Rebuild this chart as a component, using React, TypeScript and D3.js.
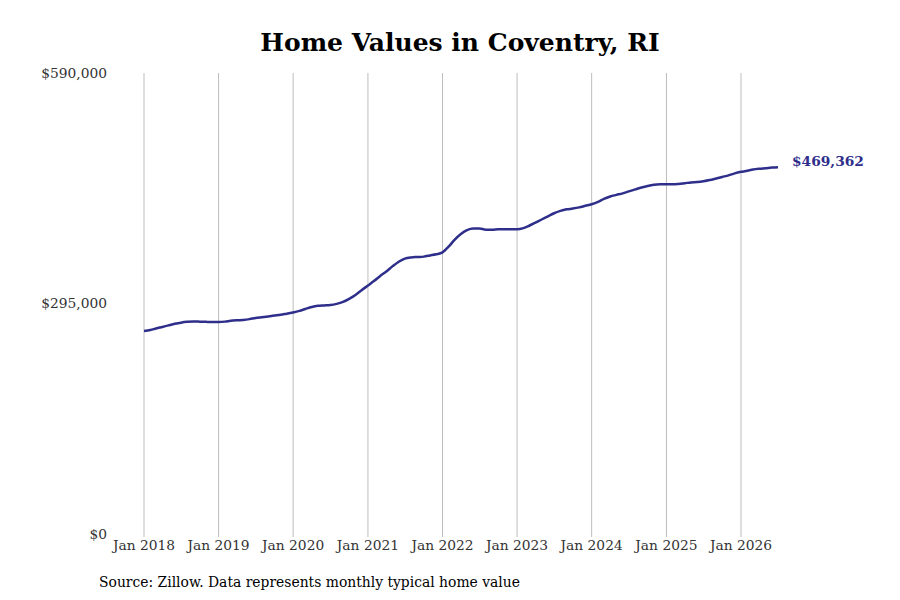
import * as d3 from "d3";

const W = 900;
const H = 600;
const M = { top: 73, right: 122, bottom: 66, left: 144 };

const START = new Date(2018, 0, 1);
const TICK_YEARS = [2018, 2019, 2020, 2021, 2022, 2023, 2024, 2025, 2026];
const Y_TICKS = [0, 295000, 590000];

// monthly typical home value, thousands of dollars, Jan 2018 .. Jul 2026
const v2018 = [259.8, 261, 263, 265, 267, 269, 270.5, 271.5, 272, 271.8, 271.5, 271.3];
const v2019 = [271.3, 271.8, 272.8, 273.5, 274, 275, 276.5, 277.5, 278.5, 279.5, 280.5, 282];
const v2020 = [283.5, 285.5, 288, 290.5, 292, 292.5, 293, 294.5, 297, 301, 306, 312];
const v2021 = [318, 324, 330, 336, 342.5, 348.5, 352.5, 354, 354.5, 355, 356.5, 358];
const v2022 = [360.5, 368, 376.5, 384, 389, 391, 391, 389.5, 389.5, 390, 390, 390];
const v2023 = [390, 391.5, 394.5, 398.5, 402.5, 406.5, 410.5, 413.5, 415.5, 416.5, 418, 420];
const v2024 = [422, 425, 429, 432, 434, 436, 438.5, 441, 443.5, 445.5, 447, 447.5];
const v2025 = [447.5, 447.5, 448, 449, 450, 450.5, 451.5, 453, 455, 457, 459, 461.5];
const v2026 = [463.5, 465, 466.5, 467.5, 468.2, 469, 469.362];

const values = [...v2018, ...v2019, ...v2020, ...v2021, ...v2022, ...v2023, ...v2024, ...v2025, ...v2026].map(
	(v) => v * 1000,
);
const data = values.map((v, i) => ({ date: new Date(2018, i, 1), v }));

const LINE = "#2e2e8b";
const FONT = "'DejaVu Serif', serif";

export default function App() {
	const x = d3
		.scaleTime()
		.domain([START, new Date(2026, 0, 1)])
		.range([M.left, 741]);
	const y = d3
		.scaleLinear()
		.domain([0, 590000])
		.range([H - M.bottom, M.top]);

	const line = d3
		.line<{ date: Date; v: number }>()
		.x((d) => x(d.date))
		.y((d) => y(d.v))
		.curve(d3.curveMonotoneX);

	const last = data[data.length - 1];
	const fmt = d3.format("$,.0f");

	return (
		<svg width={W} height={H} style={{ display: "block", margin: "-8px" }}>
			<rect width={W} height={H} fill="#fff" />
			<text x={460} y={51} textAnchor="middle" fontFamily={FONT} fontWeight="bold" fontSize={25} fill="#000">
				Home Values in Coventry, RI
			</text>

			{TICK_YEARS.map((yr) => {
				const xx = x(new Date(yr, 0, 1));
				return (
					<g key={yr}>
						<line x1={xx} x2={xx} y1={M.top} y2={y(0) + 3} stroke="#bdbdbd" strokeWidth={1} />
						<text x={xx} y={550} textAnchor="middle" fontFamily={FONT} fontSize={13.8} fill="#333">
							Jan {yr}
						</text>
					</g>
				);
			})}

			{Y_TICKS.map((t) => (
				<text
					key={t}
					x={107}
					y={y(t) + 4.5}
					textAnchor="end"
					fontFamily={FONT}
					fontSize={13.8}
					fill="#333"
				>
					{fmt(t)}
				</text>
			))}

			<path d={line(data) ?? ""} fill="none" stroke={LINE} strokeWidth={2.5} strokeLinejoin="round" />

			<text
				x={x(last.date) + 14}
				y={y(last.v) - 1}
				fontFamily={FONT}
				fontWeight="bold"
				fontSize={13.8}
				fill={LINE}
			>
				{fmt(last.v)}
			</text>

			<text x={99} y={587} fontFamily={FONT} fontSize={13.9} fill="#000">
				Source: Zillow. Data represents monthly typical home value
			</text>
		</svg>
	);
}
